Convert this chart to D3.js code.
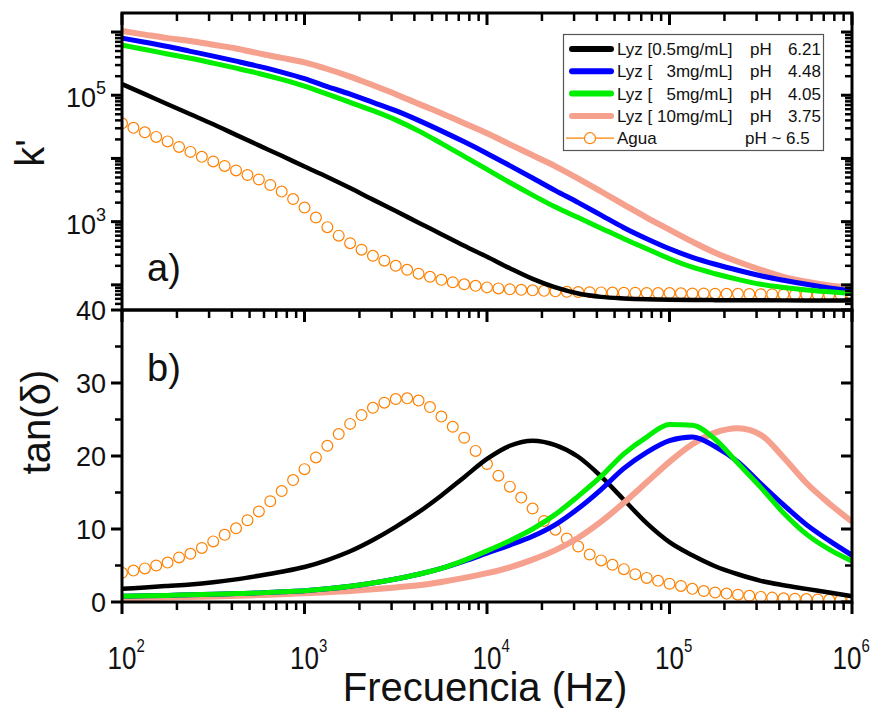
<!DOCTYPE html>
<html><head><meta charset="utf-8">
<script src="https://cdn.jsdelivr.net/npm/d3@7"></script>
<style>
html,body{margin:0;padding:0;background:#fff;}
svg text{font-family:Arial,"Liberation Sans",sans-serif;}
</style></head>
<body>
<svg id="chart" width="870" height="708"></svg>
<script>
// ---------------- DATA ----------------
const freqLines = [100,133.4,177.8,237.1,316.2,421.7,562.3,749.9,1000,1333.5,1778.3,2371.4,3162.3,4217,5623.4,7498.9,
  10000,13335,17783,23714,31623,42170,56234,74989,100000,133352,177828,237137,316228,421697,562341,749894,1000000];

const kBlack = [1.5e5,1.04e5,7.2e4,5.0e4,3.47e4,2.36e4,1.61e4,1.1e4,7460,5090,3400,2230,1470,964,634,416,
  278,183,124,91,73,64.5,61,59,58,57.5,57.3,57,57,56.8,56.8,56.6,56.5];
const kBlue = [8.0e5,6.9e5,5.9e5,4.95e5,4.16e5,3.46e5,2.86e5,2.32e5,1.83e5,1.37e5,1.04e5,7.7e4,5.7e4,4.0e4,2.73e4,1.83e4,
  1.2e4,7700,4900,3100,2000,1270,803,537,372,273,212,170,139,118,102,89.5,80];
const kGreen = [6.2e5,5.3e5,4.5e5,3.84e5,3.22e5,2.68e5,2.21e5,1.78e5,1.39e5,1.04e5,7.7e4,5.7e4,4.08e4,2.73e4,1.73e4,1.08e4,
  6700,4160,2630,1700,1160,789,537,372,259,190,150,122,102,91,83,77.5,73];
const kPink = [1.04e6,9.1e5,8.0e5,7.2e5,6.3e5,5.5e5,4.6e5,3.9e5,3.3e5,2.6e5,1.97e5,1.44e5,1.04e5,7.3e4,5.2e4,3.6e4,
  2.5e4,1.67e4,1.12e4,7500,4800,3000,1860,1160,746,482,322,232,173,134,112,98,90];

const tanBlack = [1.8,2.0,2.2,2.4,2.7,3.1,3.6,4.15,4.8,5.75,6.95,8.5,10.3,12.3,14.6,17.1,
  19.6,21.4,22.1,21.5,19.9,17.2,14.0,10.8,8.2,6.4,4.9,3.8,2.9,2.3,1.8,1.3,0.8];
const tanBlue = [0.8,0.85,0.9,1.0,1.05,1.15,1.25,1.4,1.55,1.8,2.15,2.6,3.15,3.8,4.6,5.6,
  6.7,7.8,9.0,10.6,12.8,15.4,18.3,20.5,22.1,22.6,21.3,19.2,16.2,13.3,10.6,8.4,6.4];
const tanGreen = [0.8,0.85,0.9,1.0,1.05,1.15,1.25,1.4,1.55,1.8,2.15,2.6,3.15,3.8,4.6,5.7,
  7.0,8.4,10.0,12.0,14.5,17.2,20.3,22.6,24.3,24.2,22.3,19.0,15.7,12.2,9.3,7.2,5.6];
const tanPink = [0.5,0.55,0.6,0.7,0.75,0.85,0.95,1.05,1.2,1.35,1.5,1.75,2.0,2.3,2.75,3.3,
  3.95,4.75,5.8,7.1,8.8,11.0,13.6,16.4,19.2,21.6,23.2,23.8,22.9,19.8,16.3,13.5,11.0];

const freqWater = [100,115.5,133.4,154,177.8,205.4,237.1,273.8,316.2,365.2,421.7,487,562.3,649.4,749.9,866,
  1000,1155,1334,1540,1778,2054,2371,2738,3162,3652,4217,4870,5623,6494,7499,8660,
  10000,11550,13340,15400,17780,20540,23710,27380,31620,36520,42170,48700,56230,64940,74990,86600,
  100000,115500,133400,154000,177800,205400,237100,273800,316200,365200,421700,487000,562300,649400,749900,866000,1000000];
const kWater = [35900,30500,25900,21900,18600,15200,12700,10600,8960,7600,6450,5470,4640,3800,2990,2280,
  1670,1160,818,600,456,360,288,241,200,173,150,134,120,110,102,96.4,
  91.2,87.9,84.8,83.3,81.8,80.4,78.9,77.5,77,76.5,76,75.5,75,75,74.5,74,
  74,73.5,73,73,72.5,72,72,71.5,71,71,70.5,70,70,69.5,69,69,68.5];
const tanWater = [4.0,4.3,4.6,5.0,5.4,6.1,6.6,7.4,8.3,9.2,10.1,11.2,12.4,13.8,15.2,16.7,
  18.2,19.8,21.4,23.0,24.4,25.6,26.6,27.3,27.8,27.9,27.6,26.7,25.4,24.0,22.5,20.7,
  18.9,17.3,15.8,14.3,12.8,11.1,9.9,8.7,7.6,6.5,5.7,5.1,4.5,3.8,3.3,2.9,
  2.5,2.2,1.8,1.5,1.3,1.15,1.0,0.85,0.7,0.6,0.5,0.45,0.4,0.35,0.3,0.3,0.25];

const legendNames = ["Lyz [0.5mg/mL]","Lyz [   3mg/mL]","Lyz [   5mg/mL]","Lyz [ 10mg/mL]","Agua"];
const legendPH = ["pH","pH","pH","pH","pH ~ 6.5"];
const legendVals = ["6.21","4.48","4.05","3.75",""];

const xTickExps = [2,3,4,5,6];
const kTickLabels = [{v:1e3,e:"3"},{v:1e5,e:"5"}];
const kBottomLabel = "40";
const tanTicks = [0,10,20,30,40];
const tanMinor = [5,15,25,35];

// ---------------- STYLES ----------------
const colors = {black:"#000000", blue:"#0000ff", green:"#00ee00", pink:"#f6a08e", water:"#ff8000"};

const svg = d3.select("#chart");
const L = 122, R = 852, T = 13, M = 310, B = 602;

const x = d3.scaleLog().domain([100,1e6]).range([L,R]);
const yK = d3.scaleLog().domain([40,2e6]).range([M,T]);
const yT = d3.scaleLinear().domain([0,40]).range([B,M]);

const defs = svg.append("defs");
defs.append("clipPath").attr("id","clipTop").append("rect").attr("x",L).attr("y",T).attr("width",R-L).attr("height",M-T);
defs.append("clipPath").attr("id","clipBot").append("rect").attr("x",L).attr("y",M).attr("width",R-L).attr("height",B-M);

const xMajor = xTickExps.map(e => Math.pow(10,e));
const xMinor = [];
for (let e=2;e<6;e++) for (let k=2;k<10;k++) xMinor.push(k*Math.pow(10,e));
const kMajor = [1e2,1e3,1e4,1e5,1e6];
const kMinor = [];
for (let e=1;e<7;e++) for (let k=2;k<10;k++){ const v=k*Math.pow(10,e); if(v>40 && v<2e6) kMinor.push(v); }

// ---------------- SERIES ----------------
const topG = svg.append("g").attr("clip-path","url(#clipTop)");
const botG = svg.append("g").attr("clip-path","url(#clipBot)");

topG.append("g").selectAll("circle").data(freqWater.map((f,i)=>[f,kWater[i]])).join("circle")
  .attr("cx",d=>x(d[0])).attr("cy",d=>yK(d[1])).attr("r",5.4)
  .attr("fill","none").attr("stroke",colors.water).attr("stroke-width",1.2);
botG.append("g").selectAll("circle").data(freqWater.map((f,i)=>[f,tanWater[i]])).join("circle")
  .attr("cx",d=>x(d[0])).attr("cy",d=>yT(d[1])).attr("r",5.4)
  .attr("fill","none").attr("stroke",colors.water).attr("stroke-width",1.2);

const seriesTop = [
  {vals:kBlack,c:colors.black,w:4.5},
  {vals:kPink,c:colors.pink,w:6},
  {vals:kBlue,c:colors.blue,w:5},
  {vals:kGreen,c:colors.green,w:5}
];
const seriesBot = [
  {vals:tanBlack,c:colors.black,w:4.5},
  {vals:tanPink,c:colors.pink,w:6},
  {vals:tanBlue,c:colors.blue,w:5},
  {vals:tanGreen,c:colors.green,w:5}
];
const lineK = d3.line().x(d=>x(d[0])).y(d=>yK(d[1])).curve(d3.curveMonotoneX);
const lineT = d3.line().x(d=>x(d[0])).y(d=>yT(d[1])).curve(d3.curveMonotoneX);
seriesTop.forEach(s=>{
  topG.append("path").attr("d",lineK(freqLines.map((f,i)=>[f,s.vals[i]])))
    .attr("fill","none").attr("stroke",s.c).attr("stroke-width",s.w).attr("stroke-linejoin","round");
});
seriesBot.forEach(s=>{
  botG.append("path").attr("d",lineT(freqLines.map((f,i)=>[f,s.vals[i]])))
    .attr("fill","none").attr("stroke",s.c).attr("stroke-width",s.w).attr("stroke-linejoin","round");
});

// ---------------- TICKS (rects placed with the scales) ----------------
const tickLayer = svg.append("g").attr("class","tickmarks");
function vTicks(scale, values, xPos, len, sw){
  tickLayer.append("g").selectAll("rect").data(values).join("rect")
    .attr("x", len < 0 ? xPos + len : xPos).attr("width", Math.abs(len))
    .attr("y", v => scale(v) - sw/2).attr("height", sw).attr("fill", "#000");
}
function hTicks(scale, values, yPos, len, sw){
  tickLayer.append("g").selectAll("rect").data(values).join("rect")
    .attr("y", len < 0 ? yPos + len : yPos).attr("height", Math.abs(len))
    .attr("x", v => scale(v) - sw/2).attr("width", sw).attr("fill", "#000");
}
// top panel
vTicks(yK, kMajor, L, -11, 3);
vTicks(yK, kMinor, L, -7, 2.5);
vTicks(yK, kMajor, R, -11, 3);
vTicks(yK, kMinor, R, -7, 2.5);
hTicks(x, xMajor, T, 12, 3);
hTicks(x, xMinor, T, 8, 2.5);
// bottom panel
vTicks(yT, tanTicks, L, -11, 3);
vTicks(yT, tanMinor, L, -7, 2.5);
vTicks(yT, tanTicks, R, -11, 3);
vTicks(yT, tanMinor, R, -7, 2.5);
hTicks(x, xMajor, M, 12, 3);
hTicks(x, xMinor, M, 8, 2.5);
hTicks(x, xMajor, B, 12, 3);
hTicks(x, xMinor, B, 8, 2.5);

// frames
svg.append("rect").attr("x",L).attr("y",T).attr("width",R-L).attr("height",M-T)
  .attr("fill","none").attr("stroke","#000").attr("stroke-width",3);
svg.append("rect").attr("x",L).attr("y",M).attr("width",R-L).attr("height",B-M)
  .attr("fill","none").attr("stroke","#000").attr("stroke-width",3);

// ---------------- LABELS ----------------
const txtCol = "#111";
kTickLabels.forEach(t=>{
  const tx = svg.append("text").attr("x",106).attr("y",yK(t.v)+12).attr("text-anchor","end")
    .attr("font-size",27).attr("fill",txtCol);
  tx.append("tspan").text("10");
  tx.append("tspan").attr("dy",-13).attr("font-size",18).text(t.e);
});
svg.append("text").attr("x",106).attr("y",yK(40)).attr("dy","0.36em").attr("text-anchor","end")
  .attr("font-size",27).attr("fill",txtCol).text(kBottomLabel);
tanTicks.filter(v=>v<40).forEach(v=>{
  svg.append("text").attr("x",106).attr("y",yT(v)).attr("dy","0.36em").attr("text-anchor","end")
    .attr("font-size",27).attr("fill",txtCol).text(v);
});
xTickExps.forEach(e=>{
  const cx = Math.min(x(Math.pow(10,e)), 847);
  svg.append("text").attr("transform",`translate(${cx},669) scale(1,1.22)`).attr("text-anchor","middle")
    .attr("font-size",26).attr("fill",txtCol).text("10");
  svg.append("text").attr("transform",`translate(${cx+14.5},652) scale(1,1.22)`).attr("text-anchor","start")
    .attr("font-size",15).attr("fill",txtCol).text(e);
});
svg.append("text").attr("x",485).attr("y",701).attr("text-anchor","middle")
  .attr("font-size",40).attr("fill",txtCol).text("Frecuencia (Hz)");
svg.append("text").attr("transform","translate(44,153) rotate(-90)").attr("text-anchor","middle")
  .attr("font-size",40).attr("fill",txtCol).text("k'");
svg.append("text").attr("transform","translate(50,422) rotate(-90)").attr("text-anchor","middle")
  .attr("font-size",40).attr("fill",txtCol).text("tan(δ)");
svg.append("text").attr("x",147).attr("y",281).attr("font-size",38).attr("fill",txtCol).text("a)");
svg.append("text").attr("x",147).attr("y",381).attr("font-size",38).attr("fill",txtCol).text("b)");

// ---------------- LEGEND ----------------
const lg = svg.append("g");
lg.append("rect").attr("x",563.5).attr("y",34.5).attr("width",260).attr("height",116)
  .attr("fill","#fff").attr("stroke","#555").attr("stroke-width",1.2);
const legColors = [colors.black,colors.blue,colors.green,colors.pink,colors.water];
legendNames.forEach((name,i)=>{
  const cy = 49 + i*22.3;
  if (i<4){
    lg.append("line").attr("x1",572).attr("x2",611).attr("y1",cy).attr("y2",cy)
      .attr("stroke",legColors[i]).attr("stroke-width",6).attr("stroke-linecap","round");
  } else {
    lg.append("line").attr("x1",566).attr("x2",614).attr("y1",cy).attr("y2",cy)
      .attr("stroke",legColors[i]).attr("stroke-width",1.2);
    lg.append("circle").attr("cx",590).attr("cy",cy).attr("r",5.5)
      .attr("fill","#fff").attr("stroke",legColors[i]).attr("stroke-width",1.2);
  }
  lg.append("text").attr("x",617).attr("y",cy).attr("dy","0.36em").attr("font-size",17)
    .style("white-space","pre").attr("fill",txtCol).text(name);
  lg.append("text").attr("x",i<4?750:745).attr("y",cy).attr("dy","0.36em").attr("font-size",17)
    .style("white-space","pre").attr("fill",txtCol).text(legendPH[i]);
  if (legendVals[i]) lg.append("text").attr("x",821).attr("y",cy).attr("dy","0.36em")
    .attr("text-anchor","end").attr("font-size",17).attr("fill",txtCol).text(legendVals[i]);
});
</script>
</body></html>
